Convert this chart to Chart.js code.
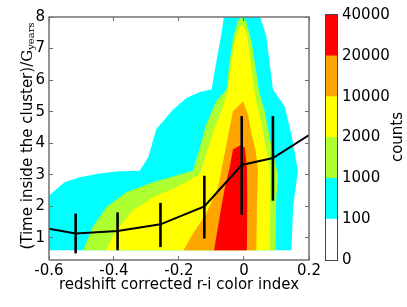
<!DOCTYPE html>
<html lang="en">
<head>
<meta charset="UTF-8">
<title>Time inside the cluster vs r-i colour</title>
<script src="https://cdn.jsdelivr.net/npm/chart.js"></script>
<style>
  body { margin: 0; background: #fff; }
  #wrap { position: relative; width: 407px; height: 307px; }
  #wrap canvas { position: absolute; top: 0; }
  .frame { position: absolute; box-sizing: border-box; pointer-events: none; }
  #barFrame { border: 1.5px solid #444; }
</style>
</head>
<body>
<div id="wrap">
  <canvas id="mainChart" width="407" height="307" style="left:0"></canvas>
  <canvas id="barChart" width="97" height="307" style="left:310px"></canvas>
  <div id="barFrame" class="frame"></div>
</div>
<script>
// contour outlines (x = r-i colour, y = Gyears), one per filled level
const level100 = [[-0.6,0.61],[-0.6,2.34],[-0.552,2.76],[-0.506,2.92],[-0.444,3.04],[-0.383,3.11],[-0.321,3.13],
  [-0.295,3.55],[-0.27,4.44],[-0.218,5.07],[-0.177,5.43],[-0.136,5.62],[-0.1,5.7],[-0.085,6.59],[-0.07,7.43],
  [-0.059,8.2],[0.043,8.2],[0.068,7.43],[0.089,5.7],[0.125,5.17],[0.146,4.28],[0.166,3.13],[0.151,1.97],[0.146,0.61]];
const level1000 = [[-0.495,0.61],[-0.465,1.35],[-0.424,1.97],[-0.362,2.45],[-0.28,2.76],[-0.157,3.13],[-0.136,3.86],
  [-0.116,4.6],[-0.085,5.33],[-0.054,5.7],[-0.044,6.59],[-0.034,7.32],[-0.018,7.9],[-0.005,8.0],[0.007,7.84],
  [0.023,7.22],[0.036,6.38],[0.046,5.64],[0.064,5.01],[0.079,4.18],[0.099,3.23],[0.105,3.02],[0.099,2.18],[0.097,0.61]];
const level2000 = [[-0.426,0.61],[-0.393,1.24],[-0.342,1.87],[-0.28,2.29],[-0.208,2.6],[-0.136,3.02],[-0.116,3.65],
  [-0.09,4.49],[-0.065,5.12],[-0.049,5.75],[-0.039,6.59],[-0.029,7.22],[-0.013,7.69],[-0.005,7.74],[0.007,7.53],
  [0.017,6.9],[0.028,5.96],[0.038,5.33],[0.053,4.7],[0.069,3.76],[0.079,3.13],[0.081,2.18],[0.079,0.61]];
const level10000 = [[-0.186,0.61],[-0.157,1.14],[-0.116,1.77],[-0.08,2.6],[-0.054,3.97],[-0.034,5.01],[-0.003,5.33],
  [0.012,4.91],[0.023,4.28],[0.036,3.76],[0.043,3.13],[0.04,2.18],[0.038,0.61]];
const level20000 = [[-0.092,0.61],[-0.075,1.66],[-0.059,2.6],[-0.044,3.23],[-0.034,3.81],[-0.008,3.95],[0.002,3.86],
  [0.009,3.23],[0.01,2.18],[0.009,0.61]];

// mean time per colour bin with error bars
const binX = [-0.6, -0.518, -0.389, -0.257, -0.122, -0.007, 0.089, 0.2];
const binY = [1.29, 1.14, 1.22, 1.43, 2.0, 3.31, 3.53, 4.26];
const errLow = [null, 0.51, 0.61, 0.71, 0.98, 1.73, 2.18, null];
const errHigh = [null, 1.77, 1.81, 2.11, 2.97, 4.86, 4.86, null];

const xTicks = [-0.6, -0.4, -0.2, 0, 0.2];
const yTicks = [1, 2, 3, 4, 5, 6, 7, 8];
const xRange = [-0.6, 0.2];
const yRange = [0.3, 8];

const levelLabels = ['0', '100', '1000', '2000', '10000', '20000', '40000'];
const levelColors = ['#ffffff', '#00ffff', '#adff2f', '#ffff00', '#ffa500', '#ff0000'];

const font = { family: 'DejaVu Sans', size: 15 };
const frameColor = '#707070';

function toPoints(pairs) { return pairs.map(p => ({x: p[0], y: p[1]})); }

const contours = [level100, level1000, level2000, level10000, level20000];
const datasets = [];
contours.forEach((c, i) => {
  datasets.push({
    data: toPoints(c), showLine: true, fill: 'shape', order: 10 - i,
    backgroundColor: levelColors[i + 1], borderWidth: 0, pointRadius: 0
  });
});
datasets.push({
  data: binX.map((x, i) => ({x: x, y: binY[i]})), showLine: true, fill: false, order: 0,
  borderColor: '#000', borderWidth: 2, pointRadius: 0
});
binX.forEach((x, i) => {
  if (errLow[i] === null) return;
  datasets.push({
    data: [{x: x, y: errLow[i]}, {x: x, y: errHigh[i]}], showLine: true, fill: false, order: 0,
    borderColor: '#000', borderWidth: 2.6, pointRadius: 0, borderCapStyle: 'butt'
  });
});
// plot frame traced along the axis limits
datasets.push({
  data: [{x: xRange[0], y: yRange[0]}, {x: xRange[1], y: yRange[0]}, {x: xRange[1], y: yRange[1]},
         {x: xRange[0], y: yRange[1]}, {x: xRange[0], y: yRange[0]}],
  showLine: true, fill: false, order: -1, clip: 4,
  borderColor: frameColor, borderWidth: 1.5, pointRadius: 0, borderJoinStyle: 'miter'
});

// inward ticks drawn by the axes themselves, above the filled contours
const frameGrid = { display: true, drawOnChartArea: false, drawTicks: true, tickLength: -4,
                    color: frameColor, lineWidth: 1, z: 1 };
const noBorder = { display: false };

function sideAxis(pos, range, tickList) {
  return {
    type: 'linear', position: pos, min: range[0], max: range[1], display: true,
    afterBuildTicks: s => { s.ticks = tickList.map(v => ({value: v})); },
    afterFit: s => { if (pos === 'top') s.height = 0; else s.width = 0; },
    grid: frameGrid, border: noBorder, ticks: { display: false }
  };
}

// y label with the subscripted unit
const labelPlugin = {
  id: 'ylabel',
  afterDraw(chart) {
    const ctx = chart.ctx;
    ctx.save();
    ctx.fillStyle = '#000';
    ctx.translate(31.5, 136);
    ctx.rotate(-Math.PI / 2);
    ctx.textBaseline = 'alphabetic';
    const t1 = '(Time inside the cluster)/';
    ctx.font = '15px "DejaVu Sans"';
    const w1 = ctx.measureText(t1).width;
    ctx.font = '15px "DejaVu Serif"';
    const w2 = ctx.measureText('G').width;
    ctx.font = '10px "DejaVu Serif"';
    const w3 = ctx.measureText('years').width;
    let x0 = -(w1 + w2 + w3) / 2;
    ctx.font = '15px "DejaVu Sans"';
    ctx.fillText(t1, x0, 0);
    x0 += w1;
    ctx.font = '15px "DejaVu Serif"';
    ctx.fillText('G', x0, 0);
    x0 += w2;
    ctx.font = '10px "DejaVu Serif"';
    ctx.fillText('years', x0, 2);
    ctx.restore();
  }
};

const mainChart = new Chart(document.getElementById('mainChart'), {
  type: 'scatter',
  data: { datasets: datasets },
  options: {
    responsive: false,
    animation: false,
    layout: { padding: { left: 0, right: 98, top: 15, bottom: 0 } },
    plugins: { legend: { display: false }, tooltip: { enabled: false } },
    scales: {
      x: {
        type: 'linear', min: xRange[0], max: xRange[1],
        afterBuildTicks: s => { s.ticks = xTicks.map(v => ({value: v})); },
        afterFit: s => { s.height = 47; },
        grid: frameGrid, border: noBorder,
        ticks: { font: font, color: '#000', padding: 6, callback: v => String(v) },
        title: { display: true, text: 'redshift corrected r-i color index', font: font, color: '#000',
                 padding: { top: 0, bottom: 13 } }
      },
      y: {
        type: 'linear', min: yRange[0], max: yRange[1],
        afterBuildTicks: s => { s.ticks = yTicks.map(v => ({value: v})); },
        afterFit: s => { s.width = 49; },
        grid: frameGrid, border: noBorder,
        ticks: { font: font, color: '#000', padding: 8, callback: v => String(v) }
      },
      x2: sideAxis('top', xRange, xTicks),
      y2: sideAxis('right', yRange, yTicks)
    }
  },
  plugins: [labelPlugin]
});

// colour bar
const countsPlugin = {
  id: 'counts',
  afterDraw(chart) {
    const ctx = chart.ctx;
    ctx.save();
    ctx.fillStyle = '#000';
    ctx.font = '15px "DejaVu Sans"';
    ctx.textAlign = 'center';
    ctx.textBaseline = 'middle';
    ctx.translate(88, 137);
    ctx.rotate(-Math.PI / 2);
    ctx.fillText('counts', 0, 0);
    ctx.restore();
  }
};

const barChart = new Chart(document.getElementById('barChart'), {
  type: 'bar',
  data: {
    labels: [''],
    datasets: levelColors.map(c => ({ data: [1], backgroundColor: c, borderWidth: 0,
      barPercentage: 1, categoryPercentage: 1 }))
  },
  options: {
    responsive: false,
    animation: false,
    layout: { padding: { left: 16, right: 0, top: 15, bottom: 47 } },
    plugins: { legend: { display: false }, tooltip: { enabled: false } },
    scales: {
      x: { display: false, stacked: true },
      y: {
        position: 'right', stacked: true, min: 0, max: 6,
        afterBuildTicks: s => { s.ticks = levelLabels.map((l, i) => ({value: i})); },
        afterFit: s => { s.width = 70; },
        grid: { display: false, drawTicks: false }, border: noBorder,
        ticks: { font: font, color: '#000', padding: 5, callback: v => levelLabels[v] }
      }
    }
  },
  plugins: [countsPlugin]
});

// outline box placed on the colour bar area the library computed
function placeFrame(el, area, offsetX, w) {
  el.style.left = (offsetX + area.left - w / 2) + 'px';
  el.style.top = (area.top - w / 2) + 'px';
  el.style.width = (area.right - area.left + w) + 'px';
  el.style.height = (area.bottom - area.top + w) + 'px';
}
placeFrame(document.getElementById('barFrame'), barChart.chartArea, 310, 1.5);
</script>
</body>
</html>
